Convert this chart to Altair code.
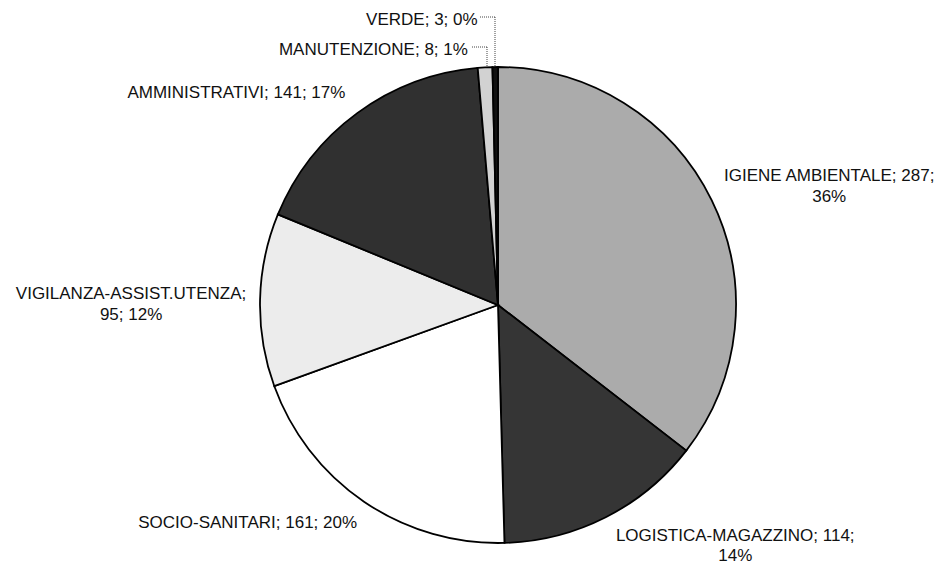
import altair as alt
import pandas as pd

# ---- data ----
categories = ["IGIENE AMBIENTALE", "LOGISTICA-MAGAZZINO", "SOCIO-SANITARI",
              "VIGILANZA-ASSIST.UTENZA", "AMMINISTRATIVI", "MANUTENZIONE", "VERDE"]
values = [287, 114, 161, 95, 141, 8, 3]
percents = [36, 14, 20, 12, 17, 1, 0]

# ---- styles ----
fills = ["#ababab", "#353535", "#ffffff", "#ececec", "#303030", "#d2d2d2", "#111111"]
# where the label text wraps: after which "; " piece (None = one line)
wrap_after = [2, 2, None, 1, None, None, None]
# label placement: radius from centre, dx, dy, align, line height
label_style = [
    (340, 26, 21, "center", 21),
    (270, 115, -10, "center", 20),
    (300, 28, -30, "right", 21),
    (300, -67, -5, "center", 21),
    (280, 13, 14, "right", 21),
    (260, -16, 5, "right", 21),
    (290, -17, 5, "right", 21),
]

CX, CY, R = 490, 297, 238
FONT = "Liberation Sans"
FS = 17


def make_label(c, v, p, w):
    parts = [c, str(v), f"{p}%"]
    if w is None:
        return "; ".join(parts)
    return "; ".join(parts[:w]) + ";\n" + "; ".join(parts[w:])


df = pd.DataFrame({
    "cat": categories,
    "value": values,
    "idx": list(range(len(categories))),
    "label": [make_label(c, v, p, w) for c, v, p, w in zip(categories, values, percents, wrap_after)],
})

base = alt.Chart(df).encode(
    theta=alt.Theta("value:Q", stack=True),
    order=alt.Order("idx:Q", sort="ascending"),
    x=alt.value(CX),
    y=alt.value(CY),
)

pie = base.mark_arc(outerRadius=R, stroke="#000000", strokeWidth=1.8).encode(
    color=alt.Color("cat:N", scale=alt.Scale(domain=categories, range=fills), legend=None),
)

layers = [pie]
for c, (rad, dx, dy, al, lh) in zip(categories, label_style):
    layers.append(
        base.mark_text(radius=rad, dx=dx, dy=dy, align=al, baseline="middle",
                       font=FONT, fontSize=FS, color="#111111",
                       lineBreak="\n", lineHeight=lh).encode(
            text=alt.condition(alt.datum.cat == c, "label:N", alt.value(""))
        )
    )

# dotted leader lines for the two thin slices (VERDE, MANUTENZIONE)
leader = dict(color="#444444", strokeWidth=1, strokeDash=[1, 1])
lead_df = pd.DataFrame({"k": [0]})
lc = alt.Chart(lead_df)
layers += [
    lc.mark_rule(**leader).encode(x=alt.value(472), x2=alt.value(487), y=alt.value(9), y2=alt.value(9)),
    lc.mark_rule(**leader).encode(x=alt.value(487), x2=alt.value(487), y=alt.value(9), y2=alt.value(59)),
    lc.mark_rule(**leader).encode(x=alt.value(464), x2=alt.value(479), y=alt.value(39), y2=alt.value(39)),
    lc.mark_rule(**leader).encode(x=alt.value(479), x2=alt.value(479), y=alt.value(39), y2=alt.value(59)),
]

chart = alt.layer(*layers).properties(
    width=936, height=558,
    autosize=alt.AutoSizeParams(type="none"),
    padding=0,
).configure_view(stroke=None)

chart.save("out.html", embed_options={"renderer": "svg", "actions": False})
